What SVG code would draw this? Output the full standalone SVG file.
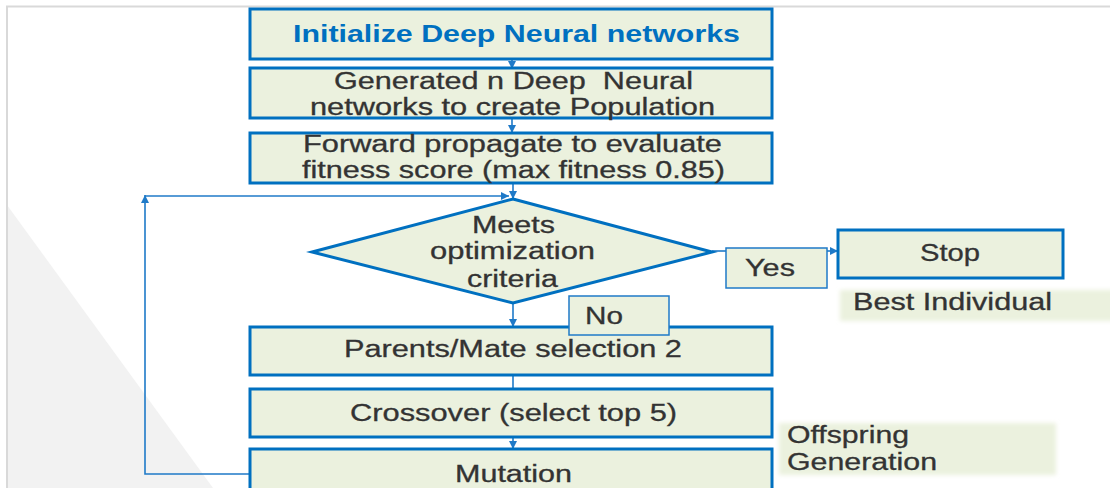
<svg xmlns="http://www.w3.org/2000/svg" width="1110" height="488" viewBox="0 0 1110 488">
<defs>
<style>
.box{fill:#EBF1DE;stroke:#0070C0;stroke-width:3}
.lbl{fill:#EBF1DE;stroke:#1F7AC8;stroke-width:1.5}
.t{font-family:"Liberation Sans",Arial,sans-serif;font-size:23px;fill:#333333;stroke:#333333;stroke-width:0.3}
.title{font-family:"Liberation Sans",Arial,sans-serif;font-size:24px;font-weight:bold;fill:#0070C0}
.c{fill:none;stroke:#1F7AC8;stroke-width:1.6}
</style>
<marker id="ah" markerUnits="userSpaceOnUse" markerWidth="10" markerHeight="10" refX="8" refY="4" orient="auto">
<path d="M0,0 L8,4 L0,8 z" fill="#1F7AC8"/>
</marker>
<filter id="soft" x="-5%" y="-20%" width="110%" height="140%">
<feGaussianBlur stdDeviation="2"/>
</filter>
</defs>
<rect width="1110" height="488" fill="#ffffff"/>
<polygon points="7,205 213,488 7,488" fill="#f2f2f2"/>
<path d="M7,488 V6.5 H1110" fill="none" stroke="#d9d9d9" stroke-width="2"/>

<g id="connectors">
<path class="c" d="M512,59 V69" marker-end="url(#ah)"/>
<path class="c" d="M512,118 V133" marker-end="url(#ah)"/>
<path class="c" d="M513,183 V199" marker-end="url(#ah)"/>
<path class="c" d="M316,462 V474 H145 V195" marker-end="url(#ah)"/>
<path class="c" d="M145,196 H509" marker-end="url(#ah)"/>
<path class="c" d="M712,251 H726"/>
<path class="c" d="M827,251 H838" marker-end="url(#ah)"/>
<path class="c" d="M513,303 V327" marker-end="url(#ah)"/>
<path class="c" d="M513,375 V389"/>
<path class="c" d="M513,437 V449" marker-end="url(#ah)"/>
</g>

<g id="init">
<rect class="box" x="250" y="9" width="522" height="50"/>
<text class="title" transform="translate(293,42) scale(1.38,1)" textLength="323.9" lengthAdjust="spacingAndGlyphs">Initialize Deep Neural networks</text>
</g>
<g id="generate">
<rect class="box" x="250" y="68" width="522" height="50"/>
<text class="t" transform="translate(334,89) scale(1.38,1)" textLength="260.1" lengthAdjust="spacingAndGlyphs" xml:space="preserve">Generated n Deep  Neural</text>
<text class="t" transform="translate(310,115) scale(1.38,1)" textLength="293.5" lengthAdjust="spacingAndGlyphs">networks to create Population</text>
</g>
<g id="forward">
<rect class="box" x="250" y="133" width="522" height="50"/>
<text class="t" transform="translate(303,152) scale(1.38,1)" textLength="303.6" lengthAdjust="spacingAndGlyphs">Forward propagate to evaluate</text>
<text class="t" transform="translate(302,178) scale(1.38,1)" textLength="306.5" lengthAdjust="spacingAndGlyphs">fitness score (max fitness 0.85)</text>
</g>
<g id="decision">
<polygon points="513,199 712,252 513,303 312,252" fill="#EBF1DE" stroke="#0070C0" stroke-width="3"/>
<text class="t" transform="translate(472,233) scale(1.38,1)" textLength="60.1" lengthAdjust="spacingAndGlyphs">Meets</text>
<text class="t" transform="translate(430,259) scale(1.38,1)" textLength="119.6" lengthAdjust="spacingAndGlyphs">optimization</text>
<text class="t" transform="translate(467,287) scale(1.38,1)" textLength="65.9" lengthAdjust="spacingAndGlyphs">criteria</text>
</g>
<g id="parents">
<rect class="box" x="250" y="327" width="522" height="48"/>
<text class="t" transform="translate(344,357) scale(1.38,1)" textLength="244.9" lengthAdjust="spacingAndGlyphs">Parents/Mate selection 2</text>
</g>
<g id="no-label">
<rect class="lbl" x="569" y="296" width="100" height="39"/>
<text class="t" transform="translate(585,324) scale(1.38,1)" textLength="27.5" lengthAdjust="spacingAndGlyphs">No</text>
</g>
<g id="crossover">
<rect class="box" x="250" y="389" width="522" height="48"/>
<text class="t" transform="translate(350,421) scale(1.38,1)" textLength="237" lengthAdjust="spacingAndGlyphs">Crossover (select top 5)</text>
</g>
<g id="mutation">
<rect class="box" x="250" y="449" width="522" height="50"/>
<text class="t" transform="translate(455,482) scale(1.38,1)" textLength="84.8" lengthAdjust="spacingAndGlyphs">Mutation</text>
</g>
<g id="yes-label">
<rect class="lbl" x="726" y="248" width="101" height="40"/>
<text class="t" transform="translate(745,276) scale(1.38,1)" textLength="36.2" lengthAdjust="spacingAndGlyphs">Yes</text>
</g>
<g id="stop">
<rect class="box" x="838" y="230" width="225" height="48"/>
<text class="t" transform="translate(920,261) scale(1.38,1)" textLength="43.5" lengthAdjust="spacingAndGlyphs">Stop</text>
</g>
<g id="best-individual">
<rect x="840" y="290" width="275" height="31" fill="#EBF1DE" filter="url(#soft)"/>
<text class="t" transform="translate(853,310) scale(1.38,1)" textLength="144.2" lengthAdjust="spacingAndGlyphs">Best Individual</text>
</g>
<g id="offspring">
<rect x="779" y="423" width="277" height="52" fill="#EBF1DE" filter="url(#soft)"/>
<text class="t" transform="translate(787,443) scale(1.38,1)" textLength="88.4" lengthAdjust="spacingAndGlyphs">Offspring</text>
<text class="t" transform="translate(787,470) scale(1.38,1)" textLength="108.7" lengthAdjust="spacingAndGlyphs">Generation</text>
</g>
</svg>
